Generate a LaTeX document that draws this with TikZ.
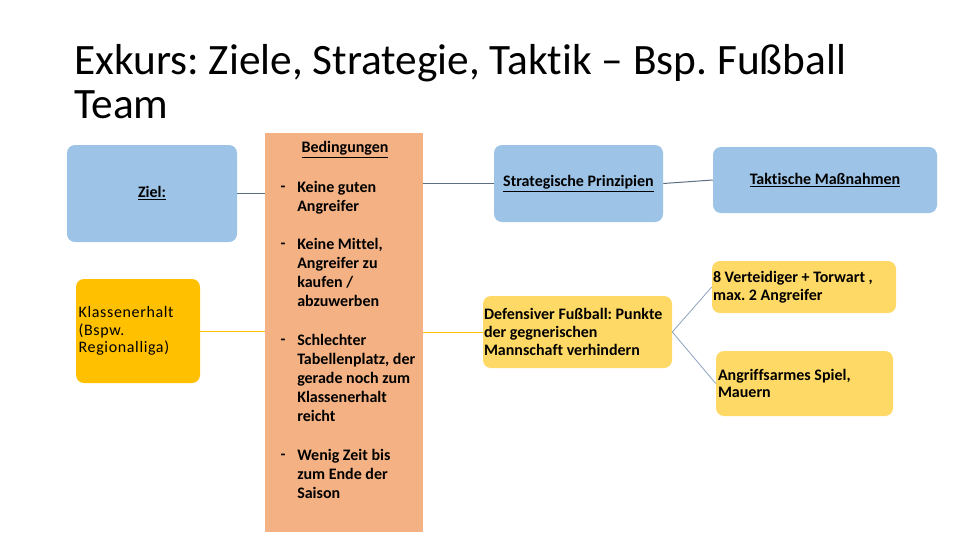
\documentclass[tikz,border=0pt]{standalone}
\usepackage{fontspec}
\setmainfont{Carlito}[Ligatures={NoCommon}]
\frenchspacing
\definecolor{boxblue}{HTML}{9DC3E6}
\definecolor{salmon}{HTML}{F4B183}
\definecolor{gold}{HTML}{FFC000}
\definecolor{lightgold}{HTML}{FFD966}
\definecolor{linedark}{HTML}{5B6F80}
\definecolor{lineblue}{HTML}{8EA3BD}
\begin{document}
\begin{tikzpicture}[x=0.75pt,y=-0.75pt,
  box/.style={rectangle, rounded corners=6pt, draw=none, inner sep=0pt},
  bodytext/.style={font=\fontsize{12}{13.2}\selectfont\bfseries},
  itemtext/.style={font=\fontsize{12}{14.25}\selectfont\bfseries, align=flush left, anchor=north west, inner sep=0pt},
  dashmark/.style={font=\fontsize{12}{14.25}\selectfont\bfseries, inner sep=0pt},
  conn/.style={draw=linedark, line width=0.75pt},
  connyellow/.style={draw=gold, line width=0.75pt},
  connblue/.style={draw=lineblue, line width=0.6pt}]
\path[use as bounding box, fill=white] (0,0) rectangle (960,540);

% title
\node[anchor=north west, inner sep=0pt, align=flush left,
      font=\fontsize{32.5}{33}\selectfont] (title) at (74,44)
  {Exkurs: Ziele, Strategie, Taktik – Bsp. Fußball\\Team};

% boxes
\node[box, fill=boxblue, minimum width=127.5pt, minimum height=72.75pt,
      font=\fontsize{12}{13.2}\selectfont\bfseries] (ziel) at (152,193.5) {\underline{Ziel:}};
\node[box, fill=gold, minimum width=93pt, minimum height=78pt, inner xsep=2pt,
      text width=89pt, align=flush left,
      font=\fontsize{12}{13.2}\selectfont\addfontfeature{LetterSpace=4}] (klasse) at (138,331)
  {Klassenerhalt\\(Bspw.\\Regionalliga)};
\node[rectangle, fill=salmon, minimum width=118.5pt, minimum height=299.25pt, inner sep=0pt] (bed) at (344,332.5) {};
\node[box, fill=boxblue, minimum width=126.75pt, minimum height=57.75pt, bodytext] (strat) at (578.5,183.5)
  {\underline{Strategische Prinzipien}};
\node[box, fill=boxblue, minimum width=168pt, minimum height=49.5pt, bodytext] (takt) at (825,180)
  {\underline{Taktische Maßnahmen}};
\node[box, fill=lightgold, minimum width=141.75pt, minimum height=54pt, inner xsep=0.75pt,
      text width=140.25pt, align=flush left, bodytext] (def) at (577.5,332)
  {Defensiver Fußball: Punkte\\der gegnerischen\\Mannschaft verhindern};
\node[box, fill=lightgold, minimum width=138pt, minimum height=39pt, inner xsep=0.75pt,
      text width=136.5pt, align=flush left, bodytext] (vert) at (804,287)
  {8 Verteidiger + Torwart ,\\max. 2 Angreifer};
\node[box, fill=lightgold, minimum width=132.75pt, minimum height=48.75pt, inner xsep=1.5pt,
      text width=129.75pt, align=flush left, bodytext] (angr) at (804.5,383.5)
  {Angriffsarmes Spiel,\\Mauern};

% Bedingungen text
\node[font=\fontsize{12}{13.2}\selectfont\bfseries, inner sep=0pt] (bedtitle) at (345,150) {\underline{Bedingungen}};
\node[dashmark] (d1) at (283,189) {-};
\node[itemtext] (i1) at (297,181) {Keine guten\\Angreifer};
\node[dashmark] (d2) at (283,246) {-};
\node[itemtext] (i2) at (297,238) {Keine Mittel,\\Angreifer zu\\kaufen /\\abzuwerben};
\node[dashmark] (d3) at (283,342) {-};
\node[itemtext] (i3) at (297,334) {Schlechter\\Tabellenplatz, der\\gerade noch zum\\Klassenerhalt\\reicht};
\node[dashmark] (d4) at (283,457) {-};
\node[itemtext] (i4) at (297,449) {Wenig Zeit bis\\zum Ende der\\Saison};

% connectors
\draw[conn] (ziel.east) -- (ziel.east -| bed.west);
\draw[conn] (strat.west -| bed.east) -- (strat.west);
\draw[conn] (strat.east) -- (takt.west);
\draw[connyellow] (klasse.east) -- (klasse.east -| bed.west);
\draw[connyellow] (def.west -| bed.east) -- (def.west);
\draw[connblue] (def.east) -- (vert.west);
\draw[connblue] (def.east) -- (angr.west);
\end{tikzpicture}
\end{document}
